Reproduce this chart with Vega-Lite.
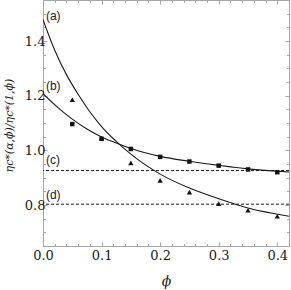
{
  "$schema": "https://vega.github.io/schema/vega-lite/v6.json",
  "width": 246,
  "height": 246,
  "autosize": "none",
  "padding": {"left": 43, "top": 0, "right": 2, "bottom": 44},
  "background": "white",
  "config": {
    "view": {"stroke": "#a6a6a6", "strokeWidth": 1},
    "axis": {
      "domain": false,
      "grid": false,
      "tickColor": "#a6a6a6",
      "tickWidth": 1,
      "labelFontSize": 13,
      "labelColor": "#1a1a1a",
      "titleColor": "#1a1a1a",
      "titleFontStyle": "italic",
      "titleFontWeight": "normal"
    }
  },
  "datasets": {
    "curves": [
      {"series": "a", "phi": 0.0, "v": 1.478},
      {"series": "a", "phi": 0.02, "v": 1.366},
      {"series": "a", "phi": 0.04, "v": 1.277},
      {"series": "a", "phi": 0.06, "v": 1.205},
      {"series": "a", "phi": 0.08, "v": 1.141},
      {"series": "a", "phi": 0.1, "v": 1.087},
      {"series": "a", "phi": 0.125, "v": 1.033},
      {"series": "a", "phi": 0.15, "v": 0.986},
      {"series": "a", "phi": 0.2, "v": 0.913},
      {"series": "a", "phi": 0.25, "v": 0.862},
      {"series": "a", "phi": 0.3, "v": 0.823},
      {"series": "a", "phi": 0.35, "v": 0.789},
      {"series": "a", "phi": 0.42, "v": 0.759},
      {"series": "b", "phi": 0.0, "v": 1.207},
      {"series": "b", "phi": 0.025, "v": 1.157},
      {"series": "b", "phi": 0.05, "v": 1.114},
      {"series": "b", "phi": 0.075, "v": 1.078},
      {"series": "b", "phi": 0.1, "v": 1.049},
      {"series": "b", "phi": 0.125, "v": 1.027},
      {"series": "b", "phi": 0.15, "v": 1.007},
      {"series": "b", "phi": 0.2, "v": 0.978},
      {"series": "b", "phi": 0.25, "v": 0.960},
      {"series": "b", "phi": 0.3, "v": 0.945},
      {"series": "b", "phi": 0.35, "v": 0.932},
      {"series": "b", "phi": 0.42, "v": 0.921}
    ],
    "points": [
      {"kind": "square", "phi": 0.05, "v": 1.096},
      {"kind": "square", "phi": 0.1, "v": 1.042},
      {"kind": "square", "phi": 0.15, "v": 1.005},
      {"kind": "square", "phi": 0.2, "v": 0.976},
      {"kind": "square", "phi": 0.25, "v": 0.959},
      {"kind": "square", "phi": 0.3, "v": 0.944},
      {"kind": "square", "phi": 0.35, "v": 0.930},
      {"kind": "square", "phi": 0.4, "v": 0.920},
      {"kind": "triangle", "phi": 0.05, "v": 1.185},
      {"kind": "triangle", "phi": 0.1, "v": 1.045},
      {"kind": "triangle", "phi": 0.15, "v": 0.954},
      {"kind": "triangle", "phi": 0.2, "v": 0.890},
      {"kind": "triangle", "phi": 0.25, "v": 0.847},
      {"kind": "triangle", "phi": 0.3, "v": 0.805},
      {"kind": "triangle", "phi": 0.35, "v": 0.781},
      {"kind": "triangle", "phi": 0.4, "v": 0.759}
    ],
    "levels": [
      {"series": "c", "v": 0.926},
      {"series": "d", "v": 0.803}
    ],
    "labels": [
      {"label": "(a)", "phi": 0.005, "v": 1.492},
      {"label": "(b)", "phi": 0.005, "v": 1.236},
      {"label": "(c)", "phi": 0.005, "v": 0.966},
      {"label": "(d)", "phi": 0.005, "v": 0.838}
    ]
  },
  "resolve": {"axis": {"x": "independent", "y": "independent"}},
  "layer": [
    {
      "data": {"name": "curves"},
      "mark": {"type": "line", "interpolate": "monotone", "color": "#1a1a1a", "strokeWidth": 1.1, "clip": true},
      "encoding": {
        "x": {
          "field": "phi", "type": "quantitative",
          "scale": {"domain": [0, 0.42], "nice": false, "zero": false},
          "axis": {
            "orient": "bottom",
            "values": [0, 0.02, 0.04, 0.06, 0.08, 0.1, 0.12, 0.14, 0.16, 0.18, 0.2, 0.22, 0.24, 0.26, 0.28, 0.3, 0.32, 0.34, 0.36, 0.38, 0.4, 0.42],
            "format": ".1f",
            "labelExpr": "abs(datum.value*10 - round(datum.value*10)) < 0.001 ? datum.label : ''",
            "tickSize": {"condition": {"test": "abs(datum.value*10 - round(datum.value*10)) < 0.001", "value": -4}, "value": -2.5},
            "labelFont": "DejaVu Serif",
            "titleFont": "DejaVu Serif",
            "labelPadding": 7,
            "labelFlush": false,
            "labelOverlap": false,
            "title": "ϕ",
            "titleFontSize": 14,
            "titleY": 35,
            "titleBaseline": "middle"
          }
        },
        "y": {
          "field": "v", "type": "quantitative",
          "scale": {"domain": [0.65, 1.55], "nice": false, "zero": false},
          "axis": {
            "orient": "left",
            "values": [0.65, 0.7, 0.75, 0.8, 0.85, 0.9, 0.95, 1.0, 1.05, 1.1, 1.15, 1.2, 1.25, 1.3, 1.35, 1.4, 1.45, 1.5, 1.55],
            "format": ".1f",
            "labelExpr": "abs(datum.value*5 - round(datum.value*5)) < 0.001 ? datum.label : ''",
            "tickSize": {"condition": {"test": "abs(datum.value*5 - round(datum.value*5)) < 0.001", "value": -4}, "value": -2.5},
            "labelFont": "DejaVu Serif",
            "titleFont": "DejaVu Serif",
            "labelPadding": 2,
            "labelFlush": false,
            "labelOverlap": false,
            "title": "ηc*(α,ϕ)/ηc*(1,ϕ)",
            "titleFontSize": 11,
            "titleX": -34,
            "titleY": 125,
            "titleAngle": 270,
            "titleBaseline": "middle"
          }
        },
        "detail": {"field": "series"}
      }
    },
    {
      "data": {"name": "levels"},
      "mark": {"type": "rule", "color": "#1a1a1a", "strokeWidth": 1, "strokeDash": [3, 2]},
      "encoding": {
        "y": {"field": "v", "type": "quantitative", "axis": null}
      }
    },
    {
      "data": {"name": "points"},
      "transform": [{"filter": "datum.kind == 'square'"}],
      "mark": {"type": "point", "shape": "square", "filled": true, "color": "#111111", "size": 20, "opacity": 1},
      "encoding": {
        "x": {"field": "phi", "type": "quantitative", "axis": null},
        "y": {"field": "v", "type": "quantitative", "axis": null}
      }
    },
    {
      "data": {"name": "points"},
      "transform": [{"filter": "datum.kind == 'triangle'"}],
      "mark": {"type": "point", "shape": "triangle-up", "filled": true, "color": "#111111", "size": 28, "opacity": 1},
      "encoding": {
        "x": {"field": "phi", "type": "quantitative", "axis": null},
        "y": {"field": "v", "type": "quantitative", "axis": null}
      }
    },
    {
      "data": {"name": "labels"},
      "mark": {"type": "text", "align": "left", "baseline": "middle", "font": "Liberation Sans", "fontSize": 12, "color": "#1a1a1a"},
      "encoding": {
        "x": {"field": "phi", "type": "quantitative", "axis": null},
        "y": {"field": "v", "type": "quantitative", "axis": null},
        "text": {"field": "label"}
      }
    },
    {
      "data": {"name": "labels"},
      "mark": {"type": "point", "opacity": 0},
      "encoding": {
        "x": {
          "field": "phi", "type": "quantitative",
          "axis": {
            "orient": "top",
            "values": [0, 0.02, 0.04, 0.06, 0.08, 0.1, 0.12, 0.14, 0.16, 0.18, 0.2, 0.22, 0.24, 0.26, 0.28, 0.3, 0.32, 0.34, 0.36, 0.38, 0.4, 0.42],
            "labels": false,
            "title": null,
            "tickSize": {"condition": {"test": "abs(datum.value*10 - round(datum.value*10)) < 0.001", "value": -4}, "value": -2.5}
          }
        },
        "y": {
          "field": "v", "type": "quantitative",
          "axis": {
            "orient": "right",
            "values": [0.65, 0.7, 0.75, 0.8, 0.85, 0.9, 0.95, 1.0, 1.05, 1.1, 1.15, 1.2, 1.25, 1.3, 1.35, 1.4, 1.45, 1.5, 1.55],
            "labels": false,
            "title": null,
            "tickSize": {"condition": {"test": "abs(datum.value*5 - round(datum.value*5)) < 0.001", "value": -4}, "value": -2.5}
          }
        }
      }
    }
  ]
}
